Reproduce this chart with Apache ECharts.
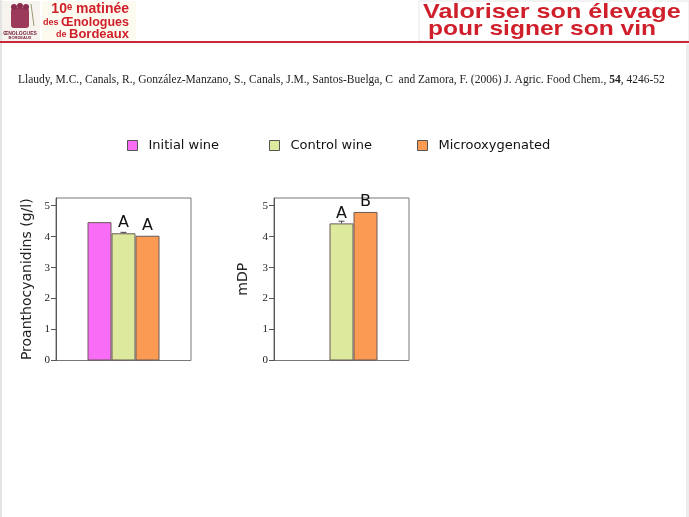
<!DOCTYPE html>
<html>
<head>
<meta charset="utf-8">
<title>Valoriser son élevage</title>
<script src="https://cdn.jsdelivr.net/npm/echarts@6/dist/echarts.min.js"></script>
<style>
  html, body { margin: 0; padding: 0; background: #fff; }
  #main { width: 689px; height: 517px; }
</style>
</head>
<body>
<div id="main"></div>
<script>
// données
var seriesNames = ['Initial wine', 'Control wine', 'Microoxygenated'];
var seriesColors = ['#f86cf6', '#dde99c', '#fb9a52'];
var proValues = [4.47, 4.11, 4.03];
var proErrors = [0, 0.03, 0];
var proLetters = ['', 'A', 'A'];
var mdpValues = [null, 4.43, 4.80];
var mdpErrors = [0, 0.07, 0];
var mdpLetters = ['', 'A', 'B'];
var yTicks = [0, 1, 2, 3, 4, 5];
var citation = 'Llaudy, M.C., Canals, R., González-Manzano, S., Canals, J.M., Santos-Buelga, C  and Zamora, F. (2006) J. Agric. Food Chem., ';

var RED = '#cf1f2a';
var barW = 24;
var chart = echarts.init(document.getElementById('main'));

function yAxisOpt(name, gap, grid) {
  return {
    type: 'value', gridIndex: grid, min: 0, max: 5.25,
    name: name, nameLocation: 'middle', nameGap: gap, nameRotate: 90,
    nameTextStyle: { fontFamily: 'DejaVu Sans', fontSize: 14, color: '#222' },
    axisLine: { show: true, lineStyle: { color: '#555' } },
    axisTick: { show: true, length: 5, customValues: yTicks, lineStyle: { color: '#555' } },
    axisLabel: { customValues: yTicks, fontFamily: 'Liberation Serif', fontSize: 11, color: '#222', margin: 6 },
    splitLine: { show: false }
  };
}
function xAxisOpt(grid) {
  return {
    type: 'category', gridIndex: grid, data: [''],
    axisLine: { show: false }, axisTick: { show: false }, axisLabel: { show: false }
  };
}

var series = [];
[[proValues, proLetters, proErrors], [mdpValues, mdpLetters, mdpErrors]].forEach(function (g, gi) {
  seriesNames.forEach(function (n, i) {
    series.push({
      name: n, type: 'bar', xAxisIndex: gi, yAxisIndex: gi,
      barWidth: barW, barGap: 0,
      data: [g[0][i]],
      itemStyle: { color: seriesColors[i], borderColor: '#6a5a55', borderWidth: 1 },
      label: {
        show: g[1][i] !== '', position: 'top', distance: 2,
        formatter: g[1][i], fontFamily: 'DejaVu Sans', fontSize: 16, color: '#111'
      }
    });
  });
  // barres d'erreur
  series.push({
    type: 'custom', xAxisIndex: gi, yAxisIndex: gi, silent: true, z: 5,
    data: g[0].map(function (v, i) { return [0, v, g[2][i], i]; }).filter(function (d) { return d[1] != null && d[2] > 0; }),
    renderItem: function (params, api) {
      var v = api.value(1), e = api.value(2), i = api.value(3);
      var p0 = api.coord([0, v]);
      var p1 = api.coord([0, v + e]);
      var x = p0[0] + (i - 1) * barW;
      return {
        type: 'group', children: [
          { type: 'line', shape: { x1: x, y1: p0[1], x2: x, y2: p1[1] }, style: { stroke: '#444', lineWidth: 1 } },
          { type: 'line', shape: { x1: x - 3, y1: p1[1], x2: x + 3, y2: p1[1] }, style: { stroke: '#444', lineWidth: 1 } }
        ]
      };
    }
  });
});

function legendOpt(i, left) {
  return {
    data: [seriesNames[i]], left: left, top: 134, icon: 'rect',
    itemWidth: 10, itemHeight: 10, itemGap: 10,
    itemStyle: { borderColor: '#555', borderWidth: 1 },
    textStyle: { fontFamily: 'DejaVu Sans', fontSize: 13, color: '#111', padding: [0, 0, 0, 6] }
  };
}

chart.setOption({
  backgroundColor: '#fff',
  animation: false,
  legend: [legendOpt(0, 122), legendOpt(1, 264), legendOpt(2, 412)],
  grid: [
    { left: 56, top: 198, width: 135, height: 162.5, show: true, borderColor: '#777', borderWidth: 1, backgroundColor: 'transparent' },
    { left: 274, top: 198, width: 135, height: 162.5, show: true, borderColor: '#777', borderWidth: 1, backgroundColor: 'transparent' }
  ],
  xAxis: [xAxisOpt(0), xAxisOpt(1)],
  yAxis: [yAxisOpt('Proanthocyanidins (g/l)', 22, 0), yAxisOpt('mDP', 24, 1)],
  series: series,
  graphic: [
    // bordures de la diapositive
    { type: 'rect', shape: { x: 0, y: 0, width: 2, height: 517 }, style: { fill: '#e4e4e4' }, silent: true },
    { type: 'rect', shape: { x: 686, y: 44, width: 3, height: 473 }, style: { fill: '#ececec' }, silent: true },
    // logo
    { type: 'rect', shape: { x: 2, y: 1, width: 38, height: 40 }, style: { fill: '#f7f4ef' }, silent: true },
    { type: 'rect', shape: { x: 11, y: 8, width: 18, height: 20, r: 3 }, style: { fill: '#9c3a5c' }, silent: true },
    { type: 'circle', shape: { cx: 14, cy: 7, r: 3 }, style: { fill: '#8a2d4e' }, silent: true },
    { type: 'circle', shape: { cx: 20, cy: 6, r: 3 }, style: { fill: '#8a2d4e' }, silent: true },
    { type: 'circle', shape: { cx: 26, cy: 7, r: 3 }, style: { fill: '#8a2d4e' }, silent: true },
    { type: 'line', shape: { x1: 31, y1: 4, x2: 34, y2: 26 }, style: { stroke: '#9a9a70', lineWidth: 1 }, silent: true },
    { type: 'text', x: 20, y: 31, style: { text: 'ŒNOLOGUES', fill: '#7a2340', font: 'bold 5px "Liberation Sans"', align: 'center' }, silent: true },
    { type: 'text', x: 20, y: 36, style: { text: 'BORDEAUX', fill: '#7a2340', font: 'bold 4px "Liberation Sans"', align: 'center' }, silent: true },
    // bloc matinée
    { type: 'rect', shape: { x: 42, y: 1, width: 94, height: 40 }, style: { fill: '#fdfbf0' }, silent: true },
    { type: 'text', x: 129, y: 2, style: { text: '10ᵉ matinée', fill: RED, font: 'bold 14px "Liberation Sans"', align: 'right' }, silent: true },
    { type: 'text', x: 129, y: 16, style: { rich: { s: { fontSize: 9, fontWeight: 'bold', fill: RED, fontFamily: 'Liberation Sans' }, b: { fontSize: 12.5, fontWeight: 'bold', fill: RED, fontFamily: 'Liberation Sans' } }, text: '{s|des }{b|Œnologues}', align: 'right' }, silent: true },
    { type: 'text', x: 129, y: 28, style: { rich: { s: { fontSize: 9, fontWeight: 'bold', fill: RED, fontFamily: 'Liberation Sans' }, b: { fontSize: 13, fontWeight: 'bold', fill: RED, fontFamily: 'Liberation Sans' } }, text: '{s|de }{b|Bordeaux}', align: 'right' }, silent: true },
    // titre
    { type: 'rect', shape: { x: 419, y: 1, width: 270, height: 40 }, style: { fill: '#fff', stroke: '#e6e6e6', lineWidth: 1 }, silent: true },
    { type: 'text', x: 423, y: 2, scaleX: 1.2, style: { text: 'Valoriser son élevage', fill: RED, font: 'bold 21px "Liberation Sans"' }, silent: true },
    { type: 'text', x: 428, y: 19, scaleX: 1.17, style: { text: 'pour signer son vin', fill: RED, font: 'bold 21px "Liberation Sans"' }, silent: true },
    { type: 'rect', shape: { x: 0, y: 41, width: 689, height: 2 }, style: { fill: '#c8283a' }, silent: true },
    // référence
    { type: 'text', x: 18, y: 74, style: { rich: { n: { fontSize: 11.5, fontFamily: 'Liberation Serif', fill: '#222' }, b: { fontSize: 11.5, fontFamily: 'Liberation Serif', fontWeight: 'bold', fill: '#222' } }, text: '{n|' + citation + '}{b|54}{n|, 4246-52}' }, silent: true }
  ]
});
</script>
</body>
</html>
